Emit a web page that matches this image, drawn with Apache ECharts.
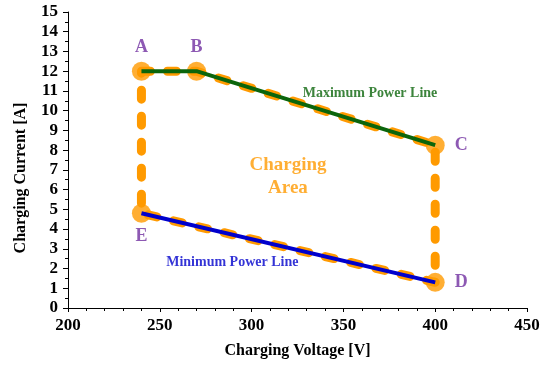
<!DOCTYPE html>
<html>
<head>
<meta charset="utf-8">
<script src="https://cdn.jsdelivr.net/npm/echarts@6/dist/echarts.min.js"></script>
<style>
  html, body { margin: 0; padding: 0; background: #fff; }
  #chart { width: 546px; height: 365px; }
</style>
</head>
<body>
<div id="chart"></div>
<script>
// Corner points of the charging area: [voltage V, current A]
const pointNames = ['A', 'B', 'C', 'D', 'E'];
const pointVoltage = [240, 270, 400, 400, 240];
const pointCurrent = [12, 12, 8.25, 1.3, 4.8];

// Maximum power line runs A -> B -> C, minimum power line E -> D
const maxLineNames = ['A', 'B', 'C'];
const minLineNames = ['E', 'D'];

// Boundary walk of the area
const boundaryOrder = ['A', 'B', 'C', 'D', 'E', 'A'];

const xTicks = { min: 200, max: 450, step: 50 };
const yTicks = { min: 0, max: 15, step: 1 };

const FONT = '"Liberation Serif", "Times New Roman", serif';
const ORANGE = '#ff9a00';
const PURPLE = '#7030a0';
const GREEN = '#0b650b';
const BLUE = '#0000cc';

function pt(name) {
  const i = pointNames.indexOf(name);
  return [pointVoltage[i], pointCurrent[i]];
}

// where each corner letter sits relative to its marker
const labelPos = {
  A: { position: 'top', distance: 5 },
  B: { position: 'top', distance: 5 },
  C: { position: 'right', distance: 10 },
  D: { position: 'right', distance: 10 },
  E: { position: 'bottom', distance: 5 }
};

const chart = echarts.init(document.getElementById('chart'), null, { renderer: 'canvas' });

chart.setOption({
  animation: false,
  grid: { left: 68, right: 19, top: 12, bottom: 57 },
  xAxis: {
    type: 'value',
    min: xTicks.min, max: xTicks.max, interval: xTicks.step,
    name: 'Charging Voltage [V]',
    nameLocation: 'middle',
    nameGap: 35,
    nameTextStyle: { fontFamily: FONT, fontWeight: 'bold', fontSize: 16, color: '#000' },
    axisLine: { lineStyle: { color: '#000', width: 1 } },
    axisTick: { show: true, length: 4, lineStyle: { color: '#000' } },
    minorTick: { show: true, splitNumber: 5, length: 3, lineStyle: { color: '#000' } },
    splitLine: { show: false },
    axisLabel: { fontFamily: FONT, fontWeight: 'bold', fontSize: 17, color: '#000', margin: 9 }
  },
  yAxis: {
    type: 'value',
    min: yTicks.min, max: yTicks.max, interval: yTicks.step,
    name: 'Charging Current [A]',
    nameLocation: 'middle',
    nameGap: 39,
    nameTextStyle: { fontFamily: FONT, fontWeight: 'bold', fontSize: 16, color: '#000',
      padding: [0, 36, 0, 0] },
    axisLine: { show: true, lineStyle: { color: '#000', width: 1 } },
    axisTick: { show: true, length: 5, lineStyle: { color: '#000' } },
    minorTick: { show: true, splitNumber: 2, length: 3, lineStyle: { color: '#000' } },
    splitLine: { show: false },
    axisLabel: { fontFamily: FONT, fontWeight: 'bold', fontSize: 17, color: '#000', margin: 10 }
  },
  series: [
    {
      // dashed boundary of the charging area
      type: 'line',
      data: boundaryOrder.map(pt),
      symbol: 'none',
      lineStyle: { color: ORANGE, width: 9, type: [9, 17], cap: 'round', join: 'round' },
      z: 2
    },
    {
      // corner markers with their letters
      type: 'scatter',
      data: pointNames.map((n, i) => ({ name: n, value: [pointVoltage[i], pointCurrent[i]],
        label: labelPos[n] })),
      symbolSize: 19,
      itemStyle: { color: ORANGE },
      label: {
        show: true,
        formatter: '{b}',
        fontFamily: FONT, fontWeight: 'bold', fontSize: 18, color: PURPLE
      },
      z: 3
    },
    {
      type: 'line',
      name: 'Maximum Power Line',
      data: maxLineNames.map(pt),
      symbol: 'none',
      lineStyle: { color: GREEN, width: 4 },
      z: 4
    },
    {
      type: 'line',
      name: 'Minimum Power Line',
      data: minLineNames.map(pt),
      symbol: 'none',
      lineStyle: { color: BLUE, width: 4 },
      z: 4
    },
    {
      // text annotations placed in data space
      type: 'scatter',
      symbolSize: 0,
      silent: true,
      data: [
        { value: [364.5, 10.9], name: 'Maximum Power Line',
          label: { color: GREEN, fontSize: 14 } },
        { value: [289.5, 2.33], name: 'Minimum Power Line',
          label: { color: BLUE, fontSize: 14 } },
        { value: [319.8, 6.66], name: 'Charging\nArea',
          label: { color: ORANGE, fontSize: 19, lineHeight: 23 } }
      ],
      label: {
        show: true, position: 'inside', formatter: '{b}',
        fontFamily: FONT, fontWeight: 'bold', align: 'center', verticalAlign: 'middle'
      },
      z: 5
    }
  ]
});
</script>
</body>
</html>
